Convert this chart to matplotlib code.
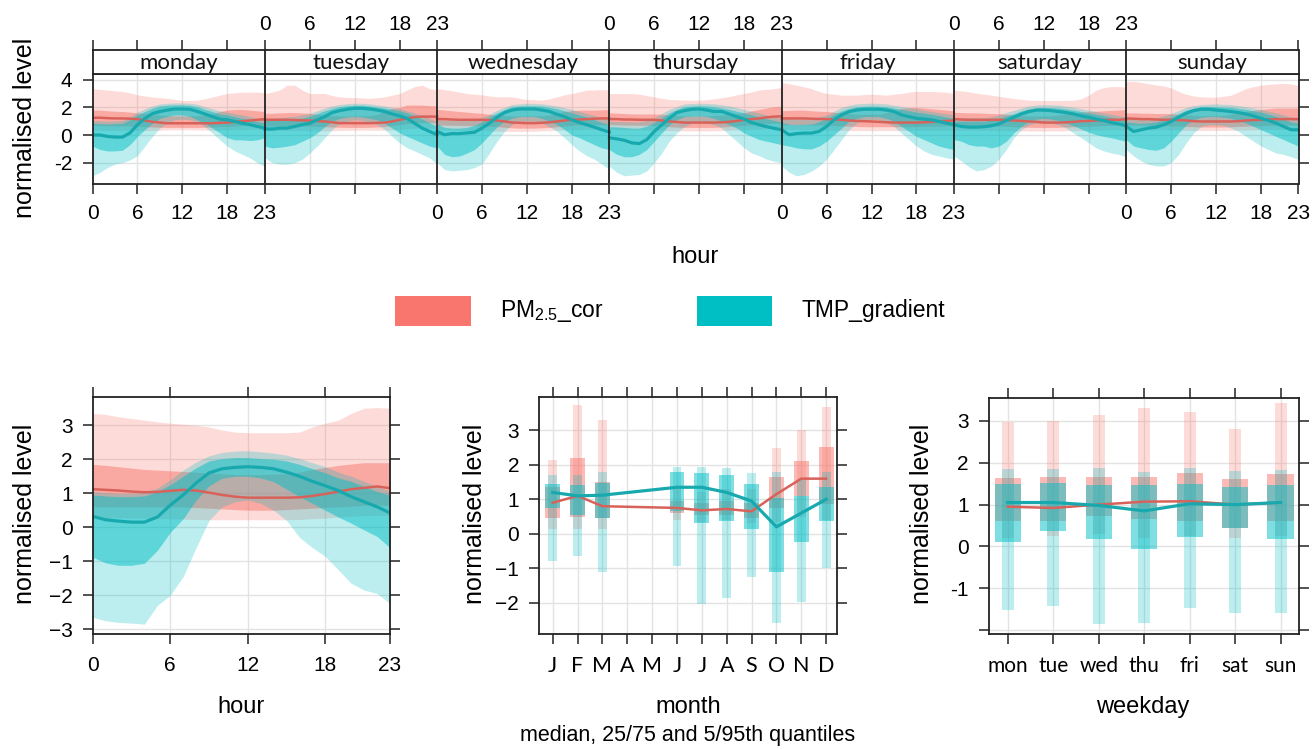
import numpy as np
import matplotlib
matplotlib.use('Agg')
import matplotlib.pyplot as plt
from matplotlib.patches import Rectangle

plt.rcParams['mathtext.fontset'] = 'custom'
plt.rcParams['mathtext.rm'] = 'Liberation Sans'
plt.rcParams['mathtext.it'] = 'Liberation Sans:italic'

# ---------------- data ----------------
days = ['monday', 'tuesday', 'wednesday', 'thursday', 'friday', 'saturday', 'sunday']
hours = list(range(24))
hour_ticks = [0, 6, 12, 18, 23]
month_labels = ['J', 'F', 'M', 'A', 'M', 'J', 'J', 'A', 'S', 'O', 'N', 'D']
month_idx = [1, 2, 3, 6, 7, 8, 9, 10, 11, 12]
weekday_labels = ['mon', 'tue', 'wed', 'thu', 'fri', 'sat', 'sun']
series_names = ['PM$_\\mathrm{2.5}$_cor', 'TMP_gradient']

# weekday x hour (7 days x 24 hours)
pm_wk_med = [
    1.25, 1.25, 1.22, 1.2, 1.2, 1.18, 1.15, 1.05, 0.95, 0.9, 0.85, 0.85, 0.85, 0.85, 0.85, 0.85, 0.85, 0.88, 0.9, 0.95, 1.0, 1.05, 1.1, 1.15,
    1.1, 1.1, 1.1, 1.1, 1.08, 1.06, 1.05, 1.02, 0.98, 0.92, 0.86, 0.86, 0.86, 0.86, 0.86, 0.88, 0.9, 0.98, 1.1, 1.2, 1.3, 1.33, 1.33, 1.33,
    1.15, 1.15, 1.12, 1.1, 1.1, 1.1, 1.1, 1.08, 1.05, 0.98, 0.9, 0.88, 0.86, 0.86, 0.88, 0.92, 0.98, 1.05, 1.1, 1.12, 1.15, 1.18, 1.2, 1.2,
    1.15, 1.15, 1.12, 1.12, 1.1, 1.1, 1.1, 1.05, 0.98, 0.94, 0.9, 0.9, 0.9, 0.9, 0.9, 0.92, 0.95, 1.02, 1.1, 1.15, 1.2, 1.28, 1.33, 1.35,
    1.2, 1.2, 1.2, 1.2, 1.18, 1.16, 1.15, 1.12, 1.1, 1.05, 1.02, 1.0, 0.98, 0.95, 0.92, 0.9, 0.9, 0.9, 0.9, 0.92, 0.95, 1.0, 1.02, 1.05,
    1.15, 1.12, 1.1, 1.1, 1.1, 1.1, 1.1, 1.08, 1.05, 1.02, 0.98, 0.95, 0.9, 0.9, 0.9, 0.92, 0.95, 1.0, 1.02, 1.05, 1.08, 1.1, 1.1, 1.15,
    1.2, 1.18, 1.15, 1.15, 1.12, 1.1, 1.1, 1.08, 1.05, 1.0, 0.98, 0.98, 0.98, 0.98, 0.98, 1.0, 1.05, 1.08, 1.1, 1.12, 1.15, 1.15, 1.15, 1.15,
]
pm_wk_q75 = [
    1.8, 1.8, 1.75, 1.72, 1.7, 1.65, 1.6, 1.55, 1.5, 1.45, 1.4, 1.38, 1.38, 1.38, 1.4, 1.45, 1.55, 1.7, 1.8, 1.85, 1.85, 1.8, 1.75, 1.7,
    1.57, 1.57, 1.6, 1.62, 1.62, 1.6, 1.57, 1.5, 1.45, 1.4, 1.38, 1.38, 1.38, 1.38, 1.4, 1.5, 1.7, 1.93, 2.0, 2.17, 2.17, 2.17, 2.12, 2.1,
    1.85, 1.8, 1.75, 1.7, 1.65, 1.6, 1.57, 1.5, 1.45, 1.4, 1.38, 1.38, 1.38, 1.38, 1.4, 1.45, 1.57, 1.7, 1.76, 1.8, 1.8, 1.8, 1.82, 1.85,
    1.6, 1.58, 1.55, 1.52, 1.52, 1.52, 1.52, 1.5, 1.45, 1.4, 1.38, 1.38, 1.38, 1.38, 1.4, 1.45, 1.5, 1.55, 1.6, 1.75, 1.85, 1.95, 2.05, 2.08,
    1.76, 1.78, 1.8, 1.8, 1.75, 1.72, 1.7, 1.65, 1.6, 1.55, 1.5, 1.5, 1.5, 1.5, 1.6, 1.75, 1.93, 1.98, 2.0, 1.95, 1.9, 1.85, 1.8, 1.75,
    1.65, 1.62, 1.6, 1.6, 1.58, 1.55, 1.55, 1.5, 1.45, 1.4, 1.38, 1.38, 1.38, 1.4, 1.45, 1.55, 1.6, 1.65, 1.7, 1.72, 1.75, 1.78, 1.8, 1.85,
    1.6, 1.6, 1.58, 1.58, 1.55, 1.55, 1.55, 1.5, 1.45, 1.42, 1.4, 1.4, 1.4, 1.42, 1.5, 1.6, 1.7, 1.78, 1.85, 1.9, 1.95, 1.95, 1.95, 1.95,
]
pm_wk_q25 = [
    0.7, 0.68, 0.66, 0.65, 0.65, 0.65, 0.62, 0.6, 0.58, 0.56, 0.55, 0.55, 0.55, 0.55, 0.55, 0.56, 0.58, 0.6, 0.62, 0.65, 0.68, 0.7, 0.72, 0.72,
    0.65, 0.65, 0.66, 0.66, 0.66, 0.65, 0.64, 0.62, 0.6, 0.58, 0.56, 0.55, 0.55, 0.55, 0.56, 0.58, 0.62, 0.68, 0.75, 0.82, 0.88, 0.9, 0.9, 0.88,
    0.72, 0.72, 0.7, 0.7, 0.68, 0.68, 0.66, 0.63, 0.6, 0.56, 0.52, 0.5, 0.5, 0.5, 0.52, 0.55, 0.6, 0.65, 0.7, 0.72, 0.74, 0.75, 0.75, 0.75,
    0.75, 0.74, 0.72, 0.72, 0.7, 0.7, 0.68, 0.64, 0.6, 0.57, 0.55, 0.55, 0.55, 0.55, 0.56, 0.58, 0.62, 0.66, 0.7, 0.74, 0.78, 0.82, 0.85, 0.86,
    0.75, 0.75, 0.74, 0.74, 0.72, 0.72, 0.7, 0.68, 0.66, 0.64, 0.62, 0.6, 0.6, 0.6, 0.6, 0.6, 0.6, 0.6, 0.62, 0.62, 0.63, 0.64, 0.65, 0.65,
    0.7, 0.7, 0.68, 0.68, 0.68, 0.66, 0.65, 0.62, 0.6, 0.58, 0.56, 0.55, 0.55, 0.55, 0.56, 0.58, 0.6, 0.62, 0.64, 0.66, 0.68, 0.7, 0.7, 0.72,
    0.72, 0.72, 0.7, 0.7, 0.7, 0.68, 0.66, 0.64, 0.62, 0.6, 0.58, 0.58, 0.58, 0.58, 0.6, 0.62, 0.64, 0.66, 0.68, 0.7, 0.7, 0.72, 0.72, 0.72,
]
pm_wk_q05 = [
    0.35, 0.35, 0.34, 0.33, 0.33, 0.32, 0.32, 0.32, 0.33, 0.35, 0.37, 0.38, 0.38, 0.38, 0.37, 0.36, 0.35, 0.35, 0.36, 0.38, 0.4, 0.4, 0.4, 0.4,
    0.32, 0.32, 0.33, 0.33, 0.32, 0.32, 0.3, 0.3, 0.3, 0.32, 0.33, 0.34, 0.35, 0.35, 0.35, 0.34, 0.34, 0.36, 0.4, 0.45, 0.48, 0.5, 0.5, 0.48,
    0.38, 0.37, 0.36, 0.35, 0.34, 0.33, 0.32, 0.3, 0.28, 0.27, 0.26, 0.26, 0.27, 0.28, 0.3, 0.32, 0.34, 0.36, 0.38, 0.4, 0.4, 0.4, 0.4, 0.4,
    0.4, 0.4, 0.38, 0.37, 0.36, 0.35, 0.34, 0.33, 0.32, 0.31, 0.3, 0.3, 0.3, 0.3, 0.31, 0.32, 0.34, 0.36, 0.38, 0.4, 0.42, 0.45, 0.46, 0.48,
    0.4, 0.4, 0.39, 0.38, 0.37, 0.36, 0.35, 0.34, 0.33, 0.33, 0.32, 0.32, 0.32, 0.32, 0.32, 0.32, 0.33, 0.33, 0.34, 0.34, 0.35, 0.35, 0.35, 0.35,
    0.36, 0.35, 0.35, 0.34, 0.34, 0.33, 0.32, 0.31, 0.3, 0.3, 0.29, 0.29, 0.29, 0.3, 0.3, 0.31, 0.32, 0.33, 0.34, 0.35, 0.36, 0.37, 0.38, 0.38,
    0.4, 0.4, 0.39, 0.38, 0.38, 0.37, 0.36, 0.35, 0.34, 0.33, 0.33, 0.33, 0.33, 0.33, 0.34, 0.35, 0.36, 0.37, 0.38, 0.39, 0.4, 0.4, 0.4, 0.4,
]
pm_wk_q95 = [
    3.35, 3.3, 3.25, 3.2, 3.15, 3.05, 2.9, 2.82, 2.75, 2.7, 2.65, 2.58, 2.5, 2.5, 2.52, 2.62, 2.75, 2.88, 3.0, 3.05, 3.1, 3.1, 3.1, 3.05,
    3.0, 3.1, 3.25, 3.6, 3.6, 3.25, 3.0, 3.0, 3.0, 2.85, 2.75, 2.72, 2.7, 2.68, 2.65, 2.7, 2.75, 2.88, 3.0, 3.25, 3.5, 3.6, 3.35, 3.25,
    3.35, 3.28, 3.2, 3.1, 3.0, 2.95, 2.9, 2.82, 2.76, 2.76, 2.76, 2.65, 2.57, 2.55, 2.52, 2.62, 2.76, 2.9, 3.0, 3.12, 3.25, 3.25, 3.28, 3.25,
    3.0, 3.0, 3.0, 3.0, 2.95, 2.85, 2.75, 2.65, 2.57, 2.55, 2.52, 2.52, 2.52, 2.55, 2.62, 2.7, 2.78, 2.9, 3.0, 3.12, 3.25, 3.3, 3.35, 3.45,
    3.8, 3.7, 3.6, 3.48, 3.35, 3.15, 3.0, 2.95, 2.88, 2.88, 2.88, 2.92, 2.95, 2.92, 2.88, 2.95, 3.0, 3.1, 3.15, 3.15, 3.15, 3.12, 3.1, 3.0,
    3.24, 3.18, 3.12, 3.02, 2.95, 2.88, 2.8, 2.72, 2.64, 2.58, 2.52, 2.5, 2.5, 2.5, 2.5, 2.5, 2.52, 2.62, 2.88, 3.24, 3.43, 3.5, 3.5, 3.45,
    3.85, 3.88, 3.8, 3.7, 3.62, 3.55, 3.4, 3.15, 2.95, 2.82, 2.76, 2.74, 2.74, 2.8, 2.88, 3.12, 3.36, 3.5, 3.6, 3.65, 3.7, 3.72, 3.7, 3.55,
]
tmp_wk_med = [
    0.0, 0.0, -0.1, -0.15, -0.15, 0.15, 0.75, 1.2, 1.55, 1.7, 1.8, 1.88, 1.88, 1.86, 1.7, 1.52, 1.33, 1.15, 1.1, 0.98, 0.85, 0.75, 0.62, 0.5,
    0.43, 0.43, 0.5, 0.5, 0.62, 0.75, 0.85, 1.1, 1.33, 1.62, 1.76, 1.86, 1.93, 1.93, 1.88, 1.8, 1.7, 1.52, 1.38, 1.2, 0.85, 0.5, 0.26, 0.02,
    0.26, 0.02, 0.1, 0.1, 0.15, 0.2, 0.5, 0.86, 1.28, 1.62, 1.8, 1.88, 1.88, 1.88, 1.8, 1.7, 1.5, 1.33, 1.1, 0.9, 0.74, 0.57, 0.38, 0.21,
    -0.2, -0.28, -0.38, -0.57, -0.62, -0.33, 0.26, 0.74, 1.2, 1.62, 1.76, 1.86, 1.88, 1.8, 1.7, 1.7, 1.52, 1.33, 1.15, 0.9, 0.74, 0.6, 0.48, 0.38,
    0.38, 0.02, 0.1, 0.14, 0.14, 0.26, 0.62, 1.1, 1.45, 1.69, 1.8, 1.86, 1.86, 1.86, 1.8, 1.7, 1.45, 1.33, 1.2, 1.15, 1.1, 0.98, 0.86, 0.74,
    0.74, 0.62, 0.57, 0.57, 0.6, 0.67, 0.8, 1.05, 1.28, 1.52, 1.69, 1.8, 1.8, 1.76, 1.69, 1.62, 1.52, 1.38, 1.28, 1.15, 1.05, 0.9, 0.8, 0.67,
    0.62, 0.26, 0.38, 0.5, 0.57, 0.74, 0.98, 1.28, 1.57, 1.76, 1.86, 1.86, 1.8, 1.76, 1.69, 1.62, 1.52, 1.38, 1.2, 1.05, 0.86, 0.62, 0.38, 0.38,
]
tmp_wk_q75 = [
    0.85, 0.82, 0.8, 0.82, 0.85, 1.1, 1.45, 1.7, 1.93, 2.1, 2.15, 2.18, 2.18, 2.15, 2.05, 1.85, 1.7, 1.52, 1.45, 1.33, 1.2, 1.1, 0.98, 0.85,
    1.05, 1.08, 1.1, 1.12, 1.15, 1.22, 1.35, 1.55, 1.75, 1.92, 2.05, 2.12, 2.15, 2.15, 2.1, 2.02, 1.95, 1.85, 1.75, 1.6, 1.4, 1.15, 0.9, 0.6,
    0.8, 0.55, 0.5, 0.5, 0.55, 0.7, 0.95, 1.3, 1.6, 1.85, 2.05, 2.1, 2.12, 2.12, 2.1, 2.0, 1.9, 1.75, 1.6, 1.45, 1.3, 1.1, 0.9, 0.75,
    0.6, 0.58, 0.55, 0.5, 0.5, 0.65, 0.9, 1.25, 1.6, 1.85, 2.05, 2.1, 2.12, 2.1, 2.05, 1.95, 1.85, 1.72, 1.6, 1.45, 1.3, 1.18, 1.05, 0.95,
    0.9, 0.78, 0.75, 0.78, 0.8, 0.95, 1.2, 1.5, 1.75, 1.92, 2.05, 2.08, 2.1, 2.08, 2.05, 1.95, 1.85, 1.75, 1.65, 1.58, 1.5, 1.4, 1.3, 1.2,
    1.0, 1.0, 1.0, 1.0, 1.0, 1.08, 1.2, 1.38, 1.55, 1.75, 1.9, 1.97, 2.0, 1.98, 1.95, 1.88, 1.8, 1.7, 1.6, 1.5, 1.4, 1.28, 1.15, 1.05,
    0.95, 0.88, 0.85, 0.88, 0.95, 1.1, 1.3, 1.55, 1.8, 1.95, 2.05, 2.06, 2.05, 2.02, 2.0, 1.92, 1.85, 1.75, 1.65, 1.5, 1.35, 1.15, 0.95, 0.85,
]
tmp_wk_q95 = [
    1.05, 1.02, 1.0, 1.02, 1.05, 1.3, 1.65, 1.9, 2.1, 2.25, 2.3, 2.32, 2.32, 2.3, 2.22, 2.05, 1.9, 1.75, 1.65, 1.55, 1.45, 1.35, 1.2, 1.1,
    1.2, 1.22, 1.25, 1.3, 1.35, 1.45, 1.55, 1.75, 1.95, 2.1, 2.2, 2.27, 2.3, 2.3, 2.25, 2.18, 2.1, 2.0, 1.9, 1.75, 1.6, 1.4, 1.2, 0.95,
    1.1, 1.08, 1.05, 1.05, 1.08, 1.15, 1.25, 1.5, 1.8, 2.0, 2.2, 2.25, 2.3, 2.28, 2.25, 2.18, 2.1, 1.98, 1.85, 1.7, 1.55, 1.4, 1.25, 1.1,
    1.0, 0.98, 0.96, 0.95, 0.95, 1.05, 1.25, 1.55, 1.85, 2.05, 2.25, 2.28, 2.3, 2.28, 2.25, 2.18, 2.1, 1.98, 1.85, 1.72, 1.6, 1.45, 1.3, 1.2,
    1.2, 1.18, 1.15, 1.15, 1.2, 1.3, 1.45, 1.72, 2.0, 2.15, 2.25, 2.28, 2.3, 2.28, 2.25, 2.15, 2.05, 1.98, 1.9, 1.8, 1.7, 1.62, 1.55, 1.45,
    1.2, 1.22, 1.25, 1.25, 1.25, 1.32, 1.45, 1.62, 1.8, 1.95, 2.1, 2.16, 2.2, 2.18, 2.15, 2.08, 2.0, 1.9, 1.8, 1.7, 1.6, 1.5, 1.4, 1.3,
    1.2, 1.18, 1.15, 1.18, 1.25, 1.38, 1.55, 1.78, 2.0, 2.12, 2.2, 2.23, 2.25, 2.22, 2.2, 2.12, 2.05, 1.95, 1.85, 1.72, 1.6, 1.45, 1.3, 1.2,
]
tmp_wk_q25 = [
    -0.8, -1.05, -1.15, -1.15, -1.1, -0.7, -0.1, 0.4, 0.85, 1.2, 1.35, 1.45, 1.45, 1.35, 1.1, 0.85, 0.5, 0.15, -0.2, -0.35, -0.35, -0.4, -0.35, -0.2,
    -0.8, -0.93, -0.88, -0.8, -0.7, -0.45, -0.2, 0.15, 0.6, 1.0, 1.2, 1.3, 1.33, 1.3, 1.2, 1.1, 0.85, 0.5, 0.15, -0.1, -0.33, -0.57, -0.8, -0.93,
    -0.8, -1.4, -1.57, -1.52, -1.3, -1.05, -0.57, 0.02, 0.6, 1.0, 1.2, 1.33, 1.33, 1.33, 1.2, 1.0, 0.75, 0.4, 0.0, -0.2, -0.45, -0.7, -0.93, -1.05,
    -1.05, -1.4, -1.57, -1.57, -1.4, -1.05, -0.45, 0.15, 0.74, 1.1, 1.33, 1.36, 1.38, 1.33, 1.2, 1.0, 0.75, 0.5, 0.15, -0.1, -0.33, -0.45, -0.57, -0.7,
    -0.7, -0.8, -0.93, -1.0, -1.0, -0.8, -0.45, 0.02, 0.5, 1.0, 1.2, 1.33, 1.33, 1.33, 1.2, 1.0, 0.62, 0.26, -0.1, -0.33, -0.57, -0.8, -0.93, -1.05,
    -0.33, -0.45, -0.7, -0.8, -0.8, -0.93, -0.8, -0.45, 0.15, 0.62, 1.0, 1.15, 1.2, 1.15, 1.05, 0.86, 0.67, 0.43, 0.2, 0.02, -0.1, -0.2, -0.33, -0.45,
    -0.33, -0.8, -0.93, -1.05, -1.1, -0.93, -0.45, 0.15, 0.74, 1.1, 1.28, 1.33, 1.33, 1.28, 1.2, 1.05, 0.86, 0.62, 0.38, 0.14, -0.1, -0.33, -0.57, -0.8,
]
tmp_wk_q05 = [
    -2.95, -2.7, -2.35, -2.1, -2.0, -1.8, -1.5, -0.8, -0.1, 0.5, 0.9, 1.1, 1.15, 1.1, 0.95, 0.6, 0.15, -0.35, -0.8, -1.15, -1.4, -1.65, -2.0, -2.25,
    -1.65, -2.0, -2.1, -2.1, -2.0, -1.75, -1.3, -0.8, -0.2, 0.4, 0.85, 1.0, 1.1, 1.05, 0.95, 0.75, 0.4, -0.1, -0.57, -0.93, -1.15, -1.4, -1.65, -2.1,
    -2.0, -2.5, -2.6, -2.55, -2.5, -2.35, -2.1, -1.3, -0.45, 0.26, 0.75, 1.0, 1.0, 1.0, 0.86, 0.6, 0.26, -0.2, -0.7, -1.15, -1.5, -1.75, -2.1, -2.5,
    -2.25, -2.7, -2.95, -2.9, -2.85, -2.6, -2.0, -1.3, -0.45, 0.15, 0.6, 0.85, 0.9, 0.85, 0.75, 0.5, 0.02, -0.45, -0.93, -1.3, -1.5, -1.75, -1.9, -2.0,
    -2.25, -2.7, -2.95, -2.85, -2.6, -2.25, -1.75, -1.05, -0.33, 0.38, 0.86, 1.1, 1.12, 1.1, 0.9, 0.62, 0.14, -0.33, -0.8, -1.15, -1.4, -1.52, -1.65, -1.75,
    -1.52, -1.88, -2.3, -2.6, -2.5, -2.25, -1.75, -1.05, -0.2, 0.38, 0.74, 0.86, 0.9, 0.86, 0.74, 0.5, 0.14, -0.2, -0.57, -0.93, -1.15, -1.3, -1.4, -1.57,
    -1.05, -1.52, -1.88, -2.12, -2.24, -2.24, -2.0, -1.4, -0.57, 0.14, 0.62, 0.74, 0.74, 0.7, 0.5, 0.26, -0.1, -0.45, -0.8, -1.05, -1.3, -1.4, -1.57, -1.76,
]

# hour of day
pm_hr_med = [1.12, 1.1, 1.08, 1.05, 1.03, 1.04, 1.07, 1.1, 1.08, 1.02, 0.95, 0.9, 0.87, 0.87, 0.87, 0.87, 0.88, 0.92, 0.98, 1.05, 1.12, 1.16, 1.2, 1.15]
pm_hr_q75 = [1.85, 1.82, 1.78, 1.74, 1.7, 1.68, 1.66, 1.64, 1.62, 1.6, 1.58, 1.55, 1.55, 1.55, 1.56, 1.58, 1.62, 1.7, 1.76, 1.82, 1.86, 1.9, 1.9, 1.9]
pm_hr_q25 = [0.6, 0.6, 0.6, 0.6, 0.6, 0.6, 0.6, 0.6, 0.58, 0.56, 0.54, 0.52, 0.5, 0.5, 0.5, 0.52, 0.54, 0.56, 0.58, 0.6, 0.62, 0.64, 0.65, 0.65]
pm_hr_q05 = [0.28, 0.28, 0.28, 0.27, 0.27, 0.26, 0.25, 0.24, 0.23, 0.22, 0.22, 0.22, 0.22, 0.22, 0.22, 0.22, 0.23, 0.25, 0.27, 0.3, 0.32, 0.34, 0.35, 0.35]
pm_hr_q95 = [3.35, 3.32, 3.25, 3.2, 3.15, 3.1, 3.06, 3.03, 3.0, 2.95, 2.86, 2.8, 2.78, 2.78, 2.78, 2.78, 2.8, 2.95, 3.06, 3.15, 3.35, 3.5, 3.52, 3.5]
tmp_hr_med = [0.32, 0.22, 0.18, 0.15, 0.15, 0.3, 0.65, 0.95, 1.3, 1.6, 1.72, 1.76, 1.78, 1.76, 1.72, 1.62, 1.5, 1.35, 1.22, 1.08, 0.9, 0.75, 0.6, 0.42]
tmp_hr_q75 = [0.95, 0.92, 0.9, 0.9, 0.92, 1.05, 1.25, 1.5, 1.75, 1.95, 2.02, 2.05, 2.05, 2.02, 2.0, 1.95, 1.85, 1.72, 1.6, 1.45, 1.35, 1.2, 1.05, 0.95]
tmp_hr_q95 = [1.05, 1.02, 1.0, 1.0, 1.02, 1.15, 1.4, 1.68, 1.92, 2.1, 2.2, 2.24, 2.25, 2.22, 2.18, 2.12, 2.02, 1.9, 1.78, 1.62, 1.5, 1.35, 1.2, 1.05]
tmp_hr_q25 = [-0.88, -1.05, -1.12, -1.12, -1.06, -0.68, -0.15, 0.25, 0.8, 1.22, 1.44, 1.5, 1.5, 1.45, 1.34, 1.12, 0.9, 0.7, 0.5, 0.3, 0.12, -0.08, -0.27, -0.6]
tmp_hr_q05 = [-2.65, -2.75, -2.8, -2.82, -2.85, -2.3, -2.0, -1.45, -0.6, 0.2, 0.6, 0.75, 0.8, 0.7, 0.5, 0.2, -0.3, -0.6, -0.86, -1.25, -1.65, -1.85, -1.95, -2.24]

# month (April, May absent)
pm_mo_med = [0.9, 1.1, 0.8, 0.75, 0.68, 0.72, 0.65, 1.15, 1.6, 1.6]
pm_mo_q25 = [0.45, 0.5, 0.45, 0.6, 0.55, 0.55, 0.45, 0.75, 1.1, 0.85]
pm_mo_q75 = [1.35, 2.2, 1.5, 0.95, 0.9, 0.95, 0.9, 1.66, 2.1, 2.53]
pm_mo_q05 = [0.15, 0.15, 0.15, 0.4, 0.35, 0.4, 0.3, 0.35, 0.5, 0.4]
pm_mo_q95 = [2.15, 3.74, 3.3, 1.3, 1.2, 1.3, 1.3, 2.5, 3.0, 3.68]
tmp_mo_med = [1.2, 1.1, 1.12, 1.35, 1.35, 1.2, 0.95, 0.2, 0.6, 1.0]
tmp_mo_q25 = [0.75, 0.55, 0.45, 0.65, 0.3, 0.38, 0.15, -1.12, -0.25, 0.38]
tmp_mo_q75 = [1.45, 1.42, 1.48, 1.78, 1.75, 1.7, 1.45, 1.05, 1.1, 1.35]
tmp_mo_q05 = [-0.8, -0.65, -1.12, -0.95, -2.05, -1.88, -1.25, -2.6, -1.98, -1.0]
tmp_mo_q95 = [1.7, 1.7, 1.8, 1.95, 1.95, 1.9, 1.75, 1.8, 1.55, 1.8]

# weekday
pm_wd_med = [0.95, 0.92, 1.0, 1.07, 1.08, 1.0, 1.05]
pm_wd_q25 = [0.6, 0.6, 0.72, 0.65, 0.62, 0.45, 0.62]
pm_wd_q75 = [1.63, 1.65, 1.65, 1.65, 1.75, 1.62, 1.72]
pm_wd_q05 = [0.2, 0.25, 0.3, 0.2, 0.25, 0.2, 0.25]
pm_wd_q95 = [2.97, 3.0, 3.15, 3.3, 3.22, 2.8, 3.42]
tmp_wd_med = [1.05, 1.05, 0.98, 0.85, 1.02, 1.0, 1.05]
tmp_wd_q25 = [0.1, 0.38, 0.18, -0.05, 0.22, 0.45, 0.18]
tmp_wd_q75 = [1.5, 1.52, 1.47, 1.47, 1.5, 1.43, 1.47]
tmp_wd_q05 = [-1.52, -1.42, -1.85, -1.82, -1.48, -1.6, -1.6]
tmp_wd_q95 = [1.85, 1.85, 1.88, 1.78, 1.88, 1.8, 1.82]

# ---------------- style ----------------
W, H = 1313, 749
fig = plt.figure(figsize=(W / 100, H / 100), dpi=100)
SANS = 'Liberation Sans'
CAL = 'Lato'
PM_COL, TMP_COL = '#F8766D', '#00BFC4'
PM_LINE, TMP_LINE = '#D8625A', '#18A9AE'
A_LIGHT, A_DARK = 0.26, 0.5
GRID = '#E3E3E3'
TICK_FS = 15


def ax_px(x0, y0, x1, y1):
    return fig.add_axes([x0 / W, 1 - y1 / H, (x1 - x0) / W, (y1 - y0) / H])


def ftext(x, y, s, **kw):
    fig.text(x / W, 1 - y / H, s, ha='center', va='center', **kw)


def frame(ax):
    for sp in ax.spines.values():
        sp.set_linewidth(1.3)
        sp.set_color('#222222')
    ax.tick_params(direction='out', length=7.5, width=1.1, color='#222222',
                   labelsize=TICK_FS, pad=7)
    for lab in ax.get_xticklabels() + ax.get_yticklabels():
        lab.set_fontfamily(SANS)


series = [
    dict(c=PM_COL, lc=PM_LINE, lw=1.8),
    dict(c=TMP_COL, lc=TMP_LINE, lw=2.3),
]

# ---------------- top: weekday x hour ----------------
wk = [
    (pm_wk_med, pm_wk_q05, pm_wk_q25, pm_wk_q75, pm_wk_q95),
    (tmp_wk_med, tmp_wk_q05, tmp_wk_q25, tmp_wk_q75, tmp_wk_q95),
]
axw = ax_px(92.5, 74, 1298.5, 184)
span = 23
axw.set_xlim(0, 7 * span)
axw.set_ylim(-3.54, 4.41)
for d in range(7):
    for h in [6, 12, 18]:
        axw.axvline(d * span + h, color=GRID, lw=1, zorder=0)
for yv in [-2, 0, 2, 4]:
    axw.axhline(yv, color=GRID, lw=1, zorder=0)
for d in range(7):
    x = d * span + np.array(hours)
    sl = slice(d * 24, d * 24 + 24)
    for st, (med, q05, q25, q75, q95) in zip(series, wk):
        axw.fill_between(x, q05[sl], q95[sl], color=st['c'], alpha=A_LIGHT, lw=0)
        axw.fill_between(x, q25[sl], q75[sl], color=st['c'], alpha=A_DARK, lw=0)
        axw.plot(x, med[sl], color=st['lc'], lw=st['lw'])
for d in range(1, 7):
    axw.axvline(d * span, color='#222222', lw=1.3)

pos, bot_lab, top_lab = [], {}, {}
for d in range(7):
    for h in hour_ticks:
        p = d * span + h
        if p not in pos:
            pos.append(p)
        if d % 2 == 0:
            bot_lab[p] = str(h)
        else:
            top_lab[p] = str(h)
pos.sort()
axw.set_xticks(pos)
axw.set_xticklabels([bot_lab.get(p, '') for p in pos])
axw.set_yticks([-2, 0, 2, 4])
axw.set_yticklabels(['-2', '0', '2', '4'])
axw.tick_params(top=False, right=True, labelright=False)
frame(axw)
axw.tick_params(axis='x', pad=7)

axs = ax_px(92.5, 50, 1298.5, 74)
axs.set_xlim(0, 7 * span)
axs.set_ylim(0, 1)
axs.set_yticks([])
axs.set_xticks(pos)
axs.set_xticklabels([top_lab.get(p, '') for p in pos])
axs.tick_params(top=True, labeltop=True, bottom=False, labelbottom=False)
frame(axs)
axs.tick_params(axis='x', pad=4)
for d in range(1, 7):
    axs.axvline(d * span, color='#222222', lw=1.3)
for d, name in enumerate(days):
    axs.text(d * span + span / 2, 0.45, name, ha='center', va='center',
             fontsize=16, fontfamily=CAL, color='#111111')

ftext(25, 128, 'normalised level', rotation=90, fontsize=18, fontfamily=SANS)
ftext(695, 257, 'hour', fontsize=17, fontfamily=SANS)

# ---------------- legend ----------------
for (x0, x1), st, name, tx in [((395, 471), series[0], series_names[0], 500),
                               ((697, 772), series[1], series_names[1], 802)]:
    fig.add_artist(Rectangle((x0 / W, 1 - 326 / H), (x1 - x0) / W, 30 / H,
                             transform=fig.transFigure, color=st['c'], lw=0))
    fig.text(tx / W, 1 - 311 / H, name, ha='left', va='center', fontsize=16.5,
             fontfamily=SANS)

# ---------------- bottom-left: hour ----------------
axh = ax_px(92.7, 396.7, 390, 634)
axh.set_xlim(0, 23)
axh.set_ylim(-3.14, 3.84)
for h in [6, 12, 18]:
    axh.axvline(h, color=GRID, lw=1, zorder=0)
for yv in range(-3, 4):
    axh.axhline(yv, color=GRID, lw=1, zorder=0)
hr = [
    (pm_hr_med, pm_hr_q05, pm_hr_q25, pm_hr_q75, pm_hr_q95),
    (tmp_hr_med, tmp_hr_q05, tmp_hr_q25, tmp_hr_q75, tmp_hr_q95),
]
for st, (med, q05, q25, q75, q95) in zip(series, hr):
    axh.fill_between(hours, q05, q95, color=st['c'], alpha=A_LIGHT, lw=0)
    axh.fill_between(hours, q25, q75, color=st['c'], alpha=A_DARK, lw=0)
    axh.plot(hours, med, color=st['lc'], lw=st['lw'])
axh.set_xticks(hour_ticks)
axh.set_yticks(range(-3, 4))
axh.tick_params(top=True, right=True)
frame(axh)
axh.tick_params(axis='x', pad=8)
ftext(25, 514, 'normalised level', rotation=90, fontsize=18, fontfamily=SANS)
ftext(241, 707, 'hour', fontsize=17, fontfamily=SANS)


def box_panel(ax, xs, data, w_light, w_dark):
    for st, (med, q05, q25, q75, q95) in zip(series, data):
        ax.bar(xs, np.array(q95) - np.array(q05), bottom=q05, width=w_light,
               color=st['c'], alpha=A_LIGHT, lw=0)
        ax.bar(xs, np.array(q75) - np.array(q25), bottom=q25, width=w_dark,
               color=st['c'], alpha=A_DARK, lw=0)
        ax.plot(xs, med, color=st['lc'], lw=st['lw'])


# ---------------- bottom-middle: month ----------------
axm = ax_px(539.3, 396.7, 837.3, 634.3)
axm.set_xlim(0.46, 12.45)
axm.set_ylim(-2.92, 3.98)
for m in range(1, 13):
    axm.axvline(m, color=GRID, lw=1, zorder=0)
for yv in range(-2, 4):
    axm.axhline(yv, color=GRID, lw=1, zorder=0)
mo = [
    (pm_mo_med, pm_mo_q05, pm_mo_q25, pm_mo_q75, pm_mo_q95),
    (tmp_mo_med, tmp_mo_q05, tmp_mo_q25, tmp_mo_q75, tmp_mo_q95),
]
box_panel(axm, month_idx, mo, 0.36, 0.6)
axm.set_xticks(range(1, 13))
axm.set_xticklabels(month_labels)
axm.set_yticks(range(-2, 4))
axm.tick_params(top=True, right=True)
frame(axm)
axm.tick_params(axis='x', pad=8)
for lab in axm.get_xticklabels():
    lab.set_fontfamily(CAL)
    lab.set_fontsize(15.5)
ftext(475, 514, 'normalised level', rotation=90, fontsize=18, fontfamily=SANS)
ftext(688, 707, 'month', fontsize=17, fontfamily=SANS)
ftext(688, 735, 'median, 25/75 and 5/95th quantiles', fontsize=15.5, fontfamily=SANS)

# ---------------- bottom-right: weekday ----------------
axd = ax_px(988.7, 397.5, 1299.3, 634.3)
axd.set_xlim(0.58, 7.41)
axd.set_ylim(-2.1, 3.56)
wx = list(range(1, 8))
for k in wx:
    axd.axvline(k, color=GRID, lw=1, zorder=0)
for yv in range(-2, 4):
    axd.axhline(yv, color=GRID, lw=1, zorder=0)
wd = [
    (pm_wd_med, pm_wd_q05, pm_wd_q25, pm_wd_q75, pm_wd_q95),
    (tmp_wd_med, tmp_wd_q05, tmp_wd_q25, tmp_wd_q75, tmp_wd_q95),
]
box_panel(axd, wx, wd, 0.27, 0.58)
axd.set_xticks(wx)
axd.set_xticklabels(weekday_labels)
axd.set_yticks(range(-2, 4))
axd.set_yticklabels(['', '-1', '0', '1', '2', '3'])
axd.tick_params(top=True, right=True)
frame(axd)
axd.tick_params(axis='x', pad=8)
for lab in axd.get_xticklabels():
    lab.set_fontfamily(CAL)
    lab.set_fontsize(15)
ftext(922, 514, 'normalised level', rotation=90, fontsize=18, fontfamily=SANS)
ftext(1143, 707, 'weekday', fontsize=17, fontfamily=SANS)

fig.savefig('out.png', dpi=100)
